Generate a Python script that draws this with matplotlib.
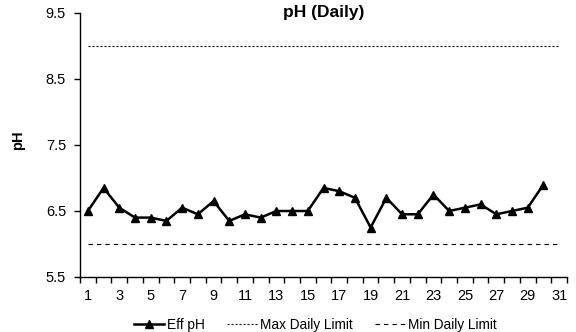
import matplotlib
matplotlib.use("Agg")
import matplotlib.pyplot as plt
import numpy as np

plt.rcParams["font.family"] = ["Liberation Sans", "DejaVu Sans"]

# daily effluent pH readings (day 31 has no reading)
days = list(range(1, 31))
eff_ph = [6.5, 6.85, 6.55, 6.4, 6.4, 6.35, 6.55, 6.45, 6.65, 6.35,
          6.45, 6.4, 6.5, 6.5, 6.5, 6.85, 6.8, 6.7, 6.25, 6.7,
          6.45, 6.45, 6.75, 6.5, 6.55, 6.6, 6.45, 6.5, 6.55, 6.9]
limit_days = list(range(1, 32))
max_limit = [9.0] * 31
min_limit = [6.0] * 31
x_ticks = list(range(1, 32, 2))
y_ticks = [5.5, 6.5, 7.5, 8.5, 9.5]

fig = plt.figure(figsize=(5.76, 3.32), dpi=100)
ax = fig.add_axes([80 / 576, 1 - 277 / 332, 487 / 576, 264 / 332])

ax.plot(days, eff_ph, color="black", lw=1.8, marker="^", ms=5.5,
        label="Eff pH", zorder=3)
ax.plot(limit_days, max_limit, color="black", lw=0.8, ls=(0, (1.8, 1.8)),
        label="Max Daily Limit")
ax.plot(limit_days, min_limit, color="black", lw=0.8, ls=(0, (4, 3.6)),
        label="Min Daily Limit")

ax.set_xlim(0.5, 31.5)
ax.set_ylim(5.5, 9.5)
ax.set_yticks(y_ticks)
ax.set_yticklabels([f"{v:.1f}" for v in y_ticks])
ax.set_xticks(x_ticks)
ax.set_xticks(np.arange(0.5, 32, 1), minor=True)
ax.tick_params(axis="x", which="major", length=0, pad=9, labelsize=10.5)
ax.tick_params(axis="x", which="minor", length=4, direction="out", width=1)
ax.tick_params(axis="y", length=4, direction="out", width=1, labelsize=10.5, pad=6)
for side in ("top", "right"):
    ax.spines[side].set_visible(False)
for side in ("left", "bottom"):
    ax.spines[side].set_linewidth(1)

ax.set_title("pH (Daily)", fontsize=12.5, fontweight="bold", pad=0, y=0.985)
ax.set_ylabel("pH", fontsize=10.5, fontweight="bold")
ax.yaxis.set_label_coords(-55 / 487, 0.52)

ax.legend(loc="upper center", bbox_to_anchor=(0.4836, -0.13), ncol=3,
          frameon=False, fontsize=9.8, handlelength=2.2, handletextpad=0.25,
          columnspacing=1.6, borderpad=0)

fig.savefig("out.png", dpi=100, facecolor="white")
